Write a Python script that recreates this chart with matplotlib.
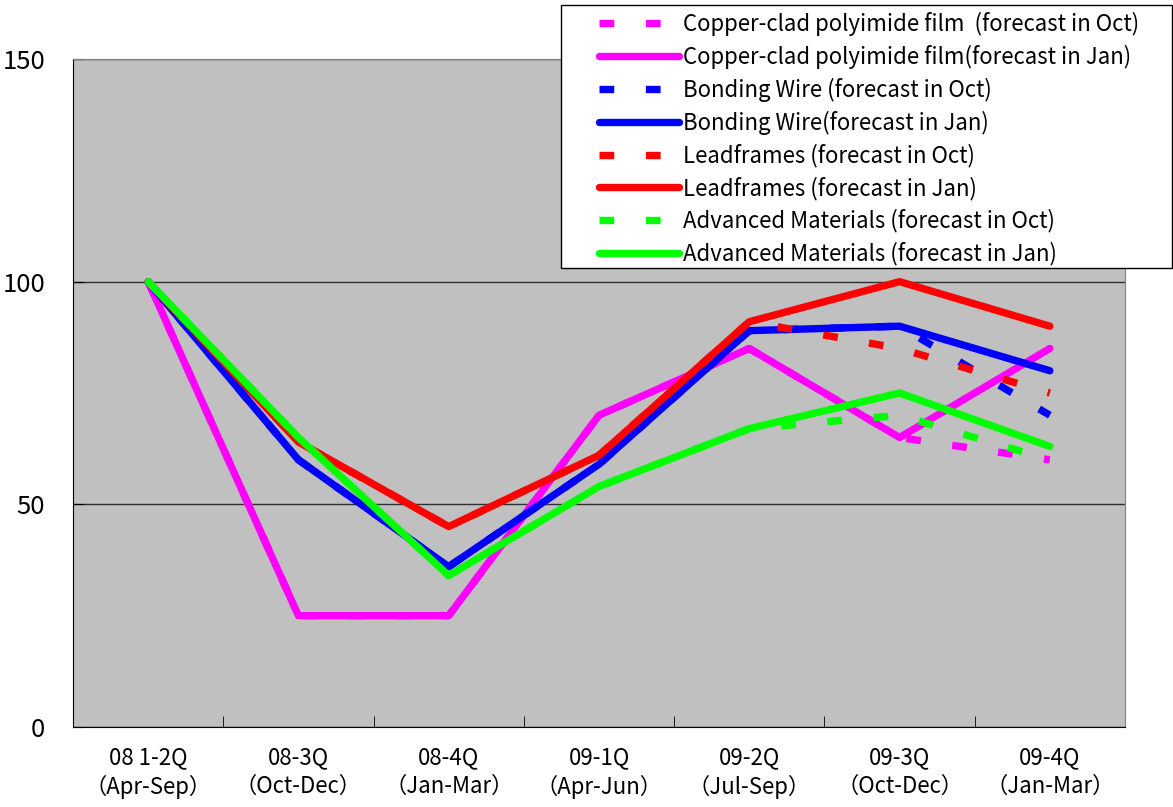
import matplotlib
matplotlib.use("Agg")
import numpy as np
import matplotlib.pyplot as plt
from matplotlib.patches import Rectangle

plt.rcParams['font.family'] = ['Noto Sans CJK JP', 'DejaVu Sans']

### data ###
quarters = ["08 1-2Q\n（Apr-Sep）", "08-3Q\n（Oct-Dec）", "08-4Q\n（Jan-Mar）",
            "09-1Q\n（Apr-Jun）", "09-2Q\n（Jul-Sep）", "09-3Q\n（Oct-Dec）",
            "09-4Q\n（Jan-Mar）"]

copper_oct = [100, 25, 25, 70, 85, 65, 60]
copper_jan = [100, 25, 25, 70, 85, 65, 85]
wire_oct = [100, 60, 36, 59, 89, 90, 70]
wire_jan = [100, 60, 36, 59, 89, 90, 80]
lead_oct = [100, 64, 45, 61, 91, 85, 75]
lead_jan = [100, 64, 45, 61, 91, 100, 90]
adv_oct = [100, 65, 34, 54, 67, 70, 60]
adv_jan = [100, 65, 34, 54, 67, 75, 63]

series = [
    ("Copper-clad polyimide film  (forecast in Oct)", copper_oct, "#ff00ff", "dash"),
    ("Copper-clad polyimide film(forecast in Jan)", copper_jan, "#ff00ff", "solid"),
    ("Bonding Wire (forecast in Oct)", wire_oct, "#0000ff", "dash"),
    ("Bonding Wire(forecast in Jan)", wire_jan, "#0000ff", "solid"),
    ("Leadframes (forecast in Oct)", lead_oct, "#ff0000", "dash"),
    ("Leadframes (forecast in Jan)", lead_jan, "#ff0000", "solid"),
    ("Advanced Materials (forecast in Oct)", adv_oct, "#00ff00", "dash"),
    ("Advanced Materials (forecast in Jan)", adv_jan, "#00ff00", "solid"),
]

W, H = 1173, 807
fig = plt.figure(figsize=(W/100, H/100), dpi=100)
ax = fig.add_axes([73/W, 80/H, 1052/W, 668/H])
ax.set_facecolor("#c0c0c0")

x = np.arange(len(quarters))
for i, (name, vals, col, kind) in enumerate(series):
    if kind == "dash":
        ax.plot(x, vals, color=col, lw=5.3, linestyle=(0, (2, 4.3)),
                dash_capstyle='butt', label=name, zorder=3 + i)
    else:
        ax.plot(x, vals, color=col, lw=5.3, solid_capstyle='round',
                solid_joinstyle='round', label=name, zorder=3 + i)

ax.set_xlim(-0.5, len(quarters) - 0.5)
ax.set_ylim(0, 150)
ax.set_yticks([0, 50, 100, 150])
ax.yaxis.grid(True, color="#303030", lw=1)
ax.set_axisbelow(True)
ax.tick_params(axis='y', direction='in', length=8, pad=20, labelsize=18.5, color='black')

ax.set_xticks(x)
ax.set_xticklabels(quarters, fontsize=16, linespacing=1.3)
ax.set_xticks(np.arange(0.5, len(quarters) - 1, 1), minor=True)
ax.tick_params(axis='x', which='major', length=0, pad=14)
ax.tick_params(axis='x', which='minor', direction='in', length=8, color='black')

for s in ['top', 'right']:
    ax.spines[s].set_color("#808080")
for s in ['left', 'bottom']:
    ax.spines[s].set_color("black")

# legend box (white frame) and the legend itself on top of it
box = Rectangle((561/W, 1 - 268/H), 611/W, 263/H, transform=fig.transFigure,
                facecolor='white', edgecolor='black', lw=1, zorder=10)
fig.add_artist(box)

leg = fig.legend(loc='upper left', bbox_to_anchor=(599/W, 1 - 12/H),
                 fontsize=16, frameon=False, handlelength=3.6, handletextpad=0.2,
                 labelspacing=0.4, borderpad=0, borderaxespad=0)
leg.set_zorder(20)

fig.savefig("out.png", dpi=100)
